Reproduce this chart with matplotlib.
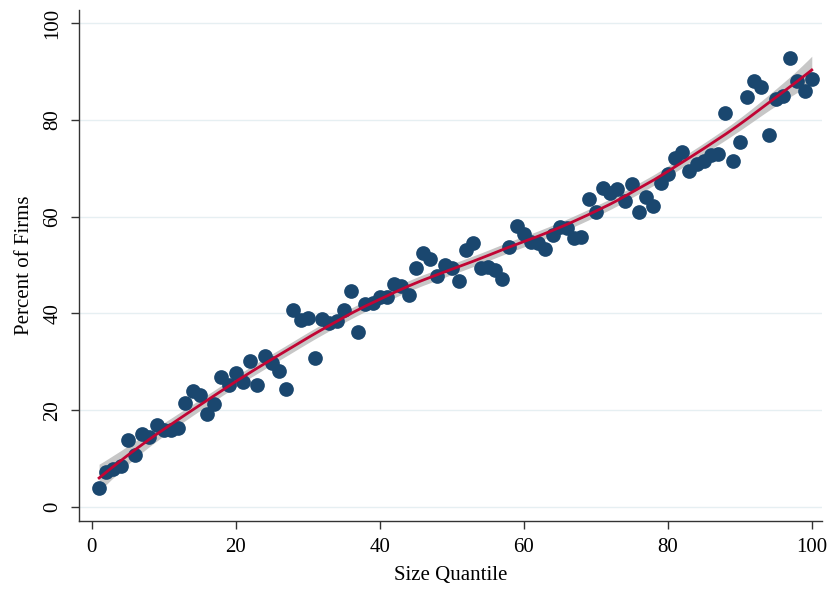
import numpy as np
import matplotlib.pyplot as plt

quantil = np.arange(1, 101)
pct_empresas = np.array([
    3.9, 7.2, 7.8, 8.5, 13.8, 10.7, 15.1, 14.4, 16.9, 15.9,
    15.9, 16.3, 21.4, 23.9, 23.1, 19.2, 21.2, 26.8, 25.2, 27.6,
    25.8, 30.1, 25.2, 31.3, 29.7, 28.2, 24.3, 40.6, 38.6, 39.0,
    30.7, 38.8, 38.1, 38.4, 40.8, 44.7, 36.1, 41.9, 42.1, 43.3,
    43.3, 46.0, 45.6, 43.7, 49.3, 52.4, 51.3, 47.8, 49.9, 49.3,
    46.6, 53.2, 54.6, 49.3, 49.5, 48.9, 47.2, 53.8, 58.1, 56.5,
    54.8, 54.6, 53.4, 56.1, 57.9, 57.7, 55.5, 55.7, 63.7, 61.0,
    66.0, 64.9, 65.8, 63.3, 66.8, 61.0, 64.1, 62.1, 67.0, 68.9,
    72.2, 73.4, 69.5, 70.9, 71.5, 72.8, 73.0, 81.4, 71.5, 75.5,
    84.7, 88.0, 86.8, 76.9, 84.3, 84.9, 92.8, 88.0, 86.0, 88.5,
])

plt.rcParams['font.family'] = ['Liberation Serif', 'DejaVu Serif']

# regresion local lineal (kernel epanechnikov) con banda al 95%
h = 19.0
xs = np.linspace(1, 100, 300)
ajuste, se = [], []
for x0 in xs:
    u = (quantil - x0) / h
    w = np.where(np.abs(u) < 1, 0.75 * (1 - u ** 2), 0.0)
    Xc = np.column_stack([np.ones(len(quantil)), quantil - x0])
    A = Xc.T @ (w[:, None] * Xc)
    L = (np.linalg.inv(A) @ (Xc * w[:, None]).T)[0]
    ajuste.append(L @ pct_empresas)
    se.append(np.sqrt(L @ L))
ajuste = np.array(ajuste)
se = np.array(se)
suave = np.interp(quantil, xs, ajuste)
sigma = np.std(pct_empresas - suave, ddof=4)
se = se * sigma

fig = plt.figure(figsize=(8.31, 5.93), dpi=100)
ax = fig.add_axes([0.095, 0.1214, 0.894, 0.8618])

ax.fill_between(xs, ajuste - 1.96 * se, ajuste + 1.96 * se, color='#bdbdbd', alpha=0.85, lw=0, zorder=2)
ax.scatter(quantil, pct_empresas, s=112, color='#1a476f', lw=0, zorder=3)
ax.plot(xs, ajuste, color='#c10534', lw=2, zorder=4)

ax.set_xlim(-1.8, 101.4)
ax.set_ylim(-2.9, 102.7)
ax.set_xticks(range(0, 101, 20))
ax.set_yticks(range(0, 101, 20))
ax.yaxis.grid(True, color='#e6eff2', lw=1)
ax.set_axisbelow(True)

for lado in ['top', 'right']:
    ax.spines[lado].set_visible(False)
for lado in ['left', 'bottom']:
    ax.spines[lado].set_color('#333333')
    ax.spines[lado].set_linewidth(1)

ax.tick_params(axis='both', direction='out', length=6, width=1, color='#333333', labelsize=15, pad=6)
plt.setp(ax.get_yticklabels(), rotation=90, va='center')

ax.set_xlabel('Size Quantile', fontsize=15, labelpad=7)
ax.set_ylabel('Percent of Firms', fontsize=15, labelpad=7)

fig.savefig('out.png', dpi=100)
